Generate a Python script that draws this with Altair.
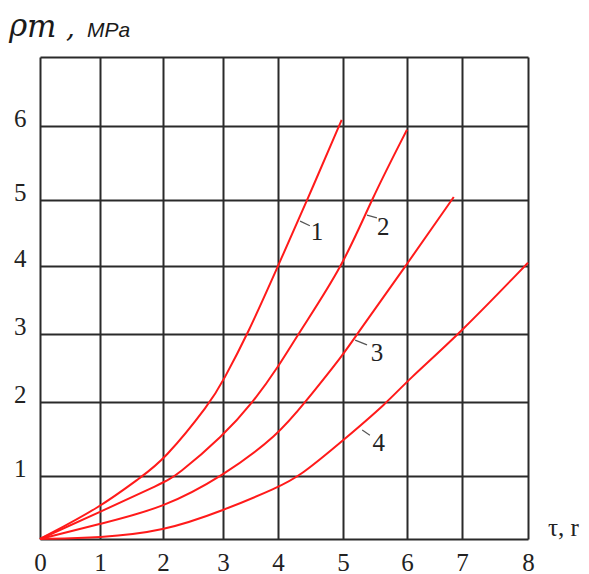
import altair as alt
import pandas as pd

# ---- data ----
c1_x = [0, 1, 1.67, 2, 2.8, 3, 3.45, 4, 4.45, 4.98]
c1_y = [0, 0.5, 1, 1.2, 2, 2.31, 3, 4, 5, 6.09]
c2_x = [0, 1, 2, 2.22, 3, 3.55, 4, 4.31, 5, 5.44, 6]
c2_y = [0, 0.43, 0.89, 1, 1.54, 2, 2.51, 3, 4, 5, 5.95]
c3_x = [0, 1, 2, 3, 4, 4.42, 5, 5.22, 5.98, 6.85]
c3_y = [0, 0.24, 0.49, 1.0, 1.55, 2, 2.69, 3, 4, 5.04]
c4_x = [0, 1, 2, 3, 4, 4.34, 5, 5.7, 6, 6.95, 8]
c4_y = [0, 0.02, 0.12, 0.45, 0.82, 1, 1.48, 2, 2.31, 3, 4.05]

curve_names = ["1", "2", "3", "4"]
label_x = [4.6, 5.63, 5.53, 5.56]
label_y = [4.52, 4.59, 2.72, 1.45]
leader_x = [4.34, 5.375, 5.19, 5.30]
leader_y = [4.68, 4.77, 2.91, 1.62]
leader_x2 = [4.49, 5.53, 5.375, 5.42]
leader_y2 = [4.61, 4.73, 2.84, 1.55]

x_ticks = [0, 1, 2, 3, 4, 5, 6, 7, 8]
y_ticks = [0, 1, 2, 3, 4, 5, 6, 7]
# hand-drawn grid is slightly irregular: pixel positions of each grid line
x_grid_px = [0, 60, 123, 183, 238, 303, 367, 422, 488]
y_grid_px = [482, 419, 345, 277, 209, 143, 69, 0]

W, H = 488, 482

rows = []
for name, xs, ys in zip(curve_names, [c1_x, c2_x, c3_x, c4_x], [c1_y, c2_y, c3_y, c4_y]):
    for i, (a, b) in enumerate(zip(xs, ys)):
        rows.append({"curve": name, "x": a, "y": b, "o": i})
df = pd.DataFrame(rows)

labels = pd.DataFrame({"t": curve_names, "x": label_x, "y": label_y})
leaders = pd.DataFrame({"x": leader_x, "y": leader_y, "x2": leader_x2, "y2": leader_y2})

xs = alt.Scale(domain=x_ticks, range=x_grid_px, nice=False, zero=False)
ys = alt.Scale(domain=y_ticks, range=y_grid_px, nice=False, zero=False)

GRID = "#2a2a2a"
SERIF = "Liberation Serif"

x_axis = alt.Axis(values=x_ticks, format="d", grid=True, gridColor=GRID, gridWidth=2,
                  gridOpacity=1, domain=False, ticks=False, labelFont=SERIF,
                  labelFontSize=25, labelColor="#222", labelPadding=11, title=None,
                  labelFlush=False)
y_axis = alt.Axis(values=y_ticks, format="d", grid=True, gridColor=GRID, gridWidth=2,
                  gridOpacity=1, domain=False, ticks=False, labelFont=SERIF,
                  labelFontSize=25, labelColor="#222", labelPadding=14, labelOffset=-8,
                  title=None, labelFlush=False,
                  labelExpr="datum.value >= 1 && datum.value <= 6 ? datum.label : ''")

lines = alt.Chart(df).mark_line(color="#ff1a1a", strokeWidth=2, interpolate="basis").encode(
    x=alt.X("x:Q", scale=xs, axis=x_axis),
    y=alt.Y("y:Q", scale=ys, axis=y_axis),
    detail="curve:N",
    order="o:Q",
)

lead = alt.Chart(leaders).mark_rule(color="#555", strokeWidth=1.2).encode(
    x=alt.X("x:Q", scale=xs), y=alt.Y("y:Q", scale=ys),
    x2="x2:Q", y2="y2:Q",
)

lab = alt.Chart(labels).mark_text(font=SERIF, fontSize=25, color="#222",
                                  align="center", baseline="middle").encode(
    x=alt.X("x:Q", scale=xs), y=alt.Y("y:Q", scale=ys), text="t:N",
)

rho = alt.Chart(pd.DataFrame({"t": ["ρ"]})).mark_text(
    font="DejaVu Serif", fontStyle="italic", fontSize=31, color="#1a1a1a",
    align="left", baseline="alphabetic").encode(
    x=alt.value(-31), y=alt.value(-21), text="t:N")
msub = alt.Chart(pd.DataFrame({"t": ["m"]})).mark_text(
    font="DejaVu Serif", fontStyle="italic", fontSize=31, color="#1a1a1a",
    align="left", baseline="alphabetic").encode(
    x=alt.value(-13), y=alt.value(-20), text="t:N")
comma = alt.Chart(pd.DataFrame({"t": [","]})).mark_text(
    font="DejaVu Serif", fontStyle="italic", fontSize=28, color="#1a1a1a",
    align="left", baseline="alphabetic").encode(
    x=alt.value(26), y=alt.value(-20), text="t:N")
mpa = alt.Chart(pd.DataFrame({"t": ["MPa"]})).mark_text(
    font="Liberation Sans", fontStyle="italic", fontSize=21, color="#1a1a1a",
    align="left", baseline="alphabetic").encode(
    x=alt.value(47), y=alt.value(-20), text="t:N")
tau = alt.Chart(pd.DataFrame({"t": ["τ, r"]})).mark_text(
    font=SERIF, fontSize=25, color="#222",
    align="left", baseline="alphabetic").encode(
    x=alt.value(W + 20), y=alt.value(H - 3), text="t:N")

chart = alt.layer(lines, lead, lab, rho, msub, comma, mpa, tau).properties(
    width=W, height=H,
    autosize=alt.AutoSizeParams(type="none"),
    padding={"left": 32, "top": 49, "right": 52, "bottom": 44},
).configure_view(stroke=None)

chart.save("out.html", embed_options={"renderer": "svg", "actions": False})
